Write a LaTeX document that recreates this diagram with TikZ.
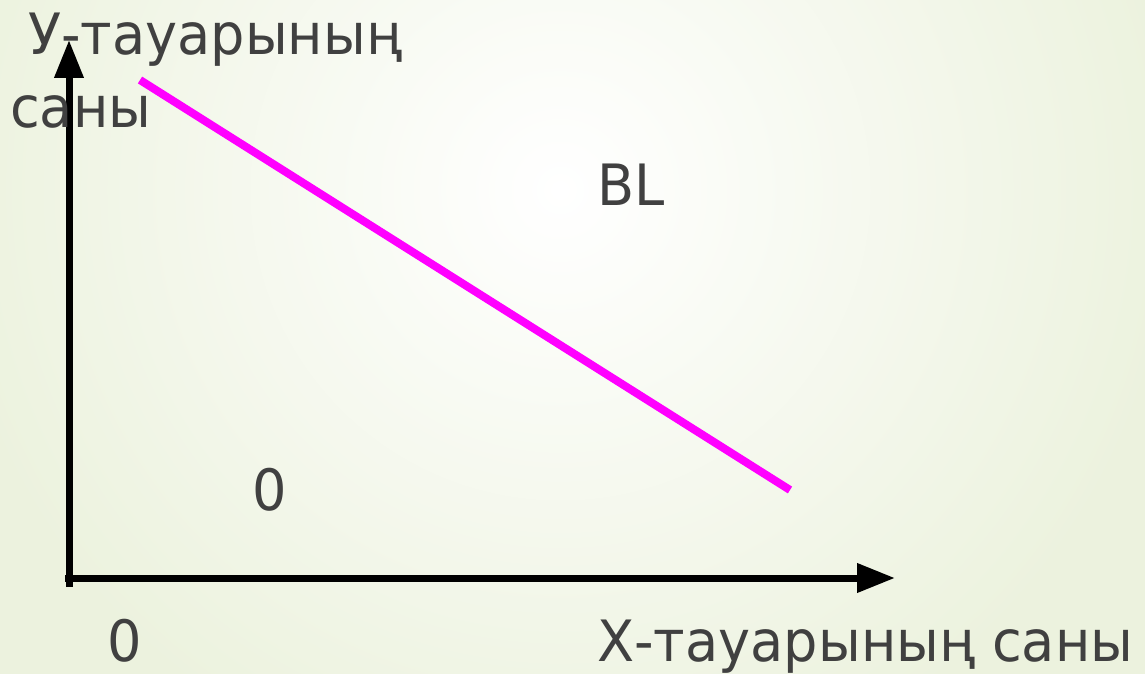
\documentclass[tikz,border=0pt]{standalone}
\usepackage{fontspec}
\setmainfont[FakeStretch=0.95]{DejaVu Sans}
\usepackage{xcolor}
\usetikzlibrary{arrows.meta}

\definecolor{bgGreen}{RGB}{236,242,222}
\definecolor{labelGray}{RGB}{64,64,64}
\definecolor{budgetPink}{RGB}{255,0,255}

\begin{document}
\begin{tikzpicture}[
    x=1pt, y=-1pt,
    axis/.style={
        line width=7pt,
        -{Triangle[length=38pt,width=28pt]}
    },
    budget/.style={
        line width=8pt,
        draw=budgetPink
    },
    axisLabel/.style={
        font=\fontsize{57}{64}\selectfont,
        text=labelGray,
        anchor=base west,
        inner sep=0pt
    }
]

% Background
\useasboundingbox (0,0) rectangle (1145,674);
\fill[bgGreen] (0,0) rectangle (1145,674);
\begin{scope}
    \clip (0,0) rectangle (1145,674);
    \shade[inner color=white, outer color=bgGreen] (560,190) circle (620);
\end{scope}

% Axes
\coordinate (originLow) at (69,587);
\coordinate (originLeft) at (65,578);
\coordinate (yTip) at (69,40);
\coordinate (xTip) at (895,578);

\draw[axis] (originLow) -- (yTip);
\draw[axis] (originLeft) -- (xTip);

% Budget line
\coordinate (budgetTop) at (140,80);
\coordinate (budgetBottom) at (790,490);

\draw[budget] (budgetTop) -- (budgetBottom);

% Labels
\node[axisLabel] (yLabel) at (28,55) {У-тауарының};
\node[axisLabel] (yLabelB) at (10,128) {саны};
\node[axisLabel] (budgetLabel) at (597,205) {BL};
\node[axisLabel] (insideZero) at (252,510) {0};
\node[axisLabel] (originZero) at (107,661) {0};
\node[axisLabel] (xLabel) at (597,661) {Х-тауарының саны};

\end{tikzpicture}
\end{document}
